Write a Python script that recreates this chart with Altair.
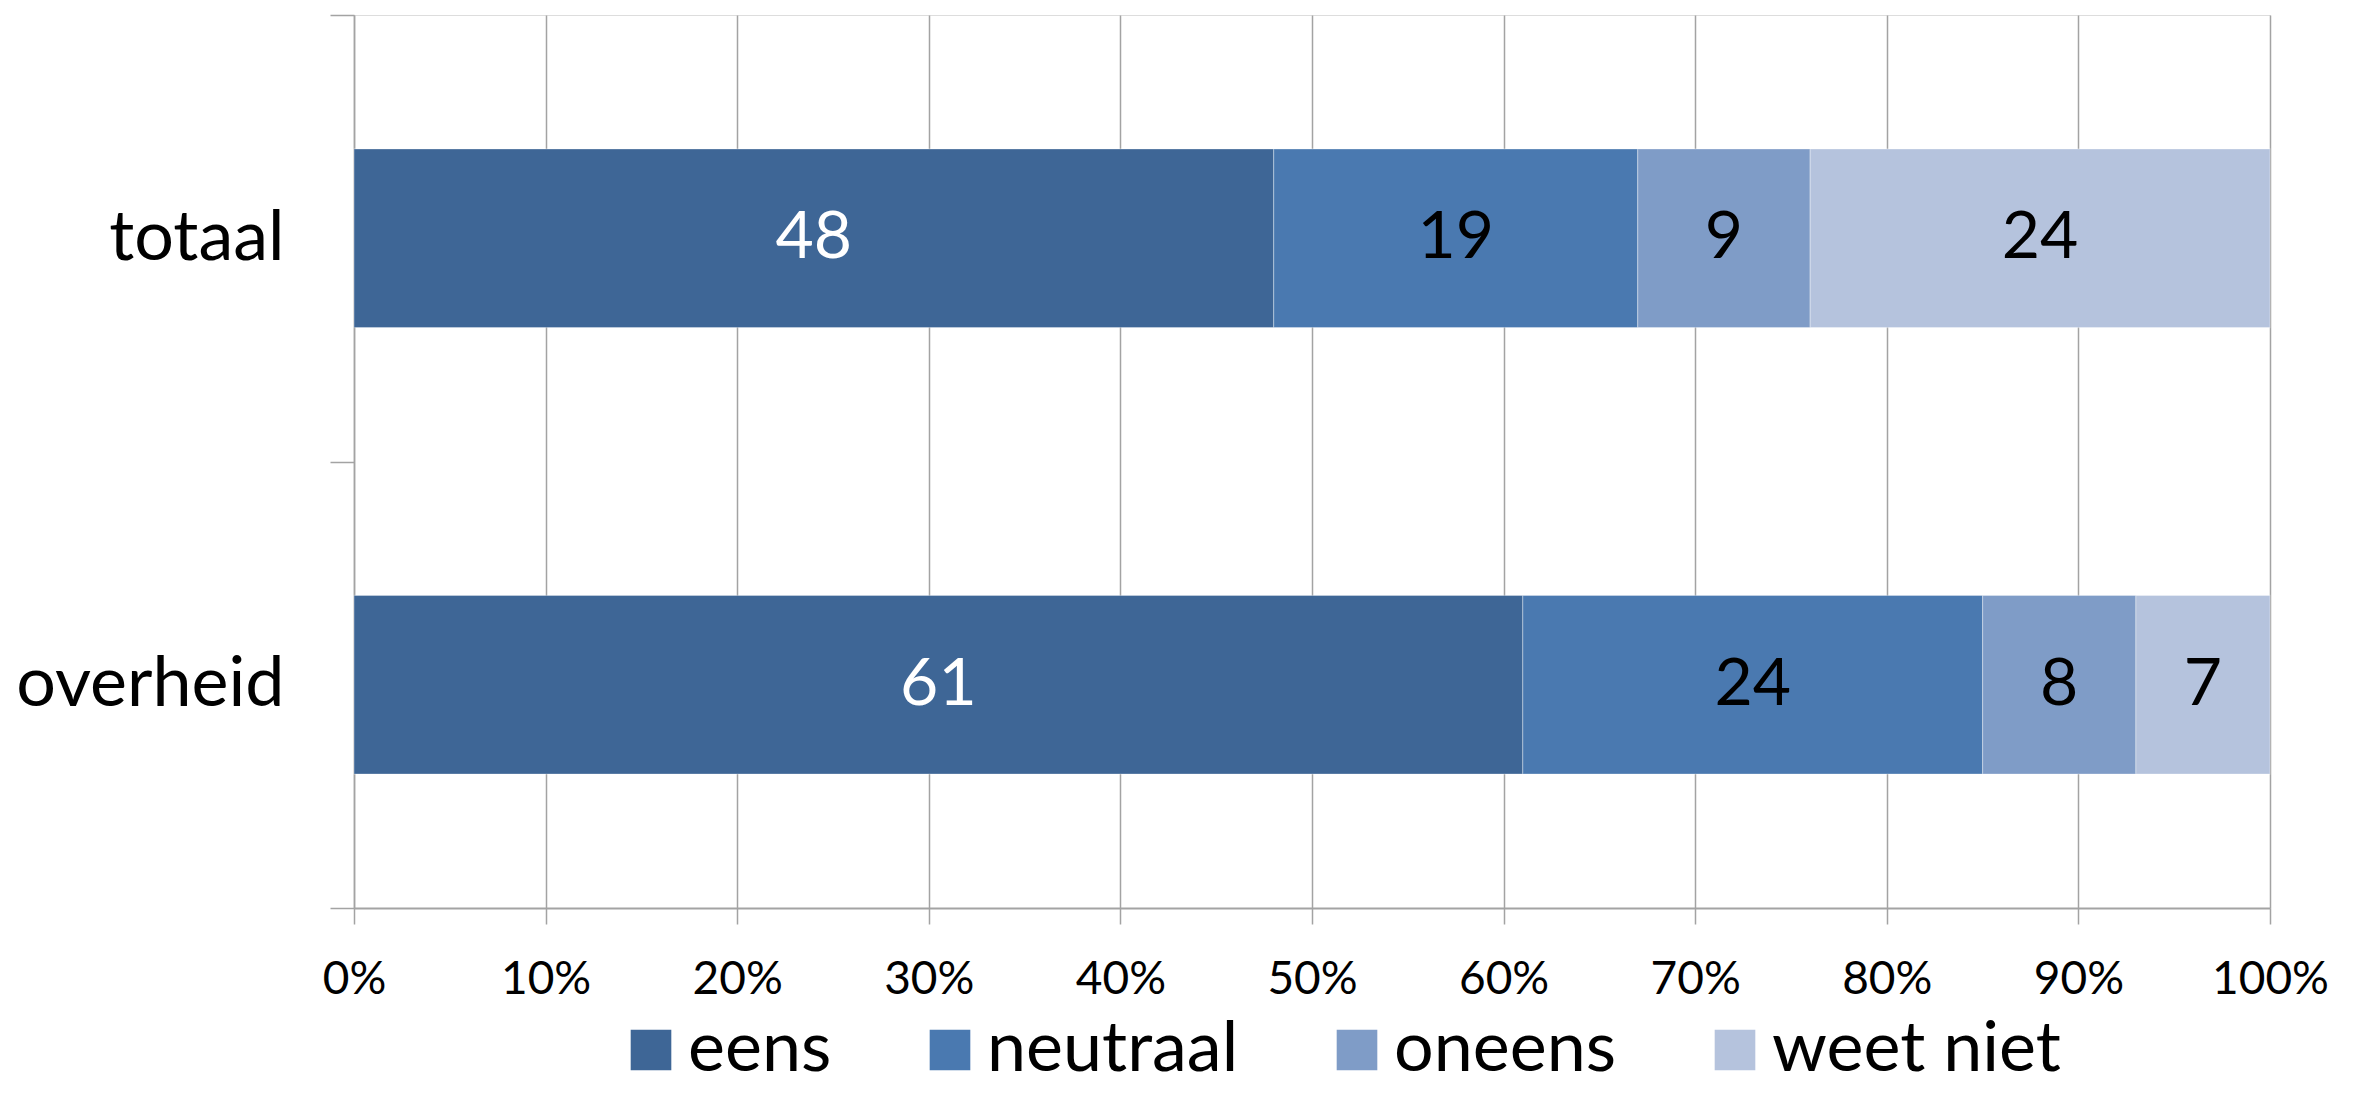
import altair as alt
import pandas as pd

categories = ["totaal", "overheid"]
responses = ["eens", "neutraal", "oneens", "weet niet"]
totaal_values = [48, 19, 9, 24]
overheid_values = [61, 24, 8, 7]
colors = ["#3E6696", "#4A79B0", "#7F9CC7", "#B5C3DD"]
text_colors = ["white", "black", "black", "black"]
x_ticks = [0, 10, 20, 30, 40, 50, 60, 70, 80, 90, 100]

rows = []
for cat, vals in zip(categories, [totaal_values, overheid_values]):
    for i, (r, v) in enumerate(zip(responses, vals)):
        rows.append({"categorie": cat, "antwoord": r, "waarde": v,
                     "volgorde": i, "tekstkleur": text_colors[i]})
df = pd.DataFrame(rows)

FONT = "Lato"
GRID = "#A3A3A3"

x_axis = alt.Axis(values=x_ticks, labelExpr="datum.value + '%'", grid=True,
                  gridColor=GRID, gridWidth=1.5, domainColor=GRID, domainWidth=2,
                  tickColor=GRID, tickWidth=1.5, tickSize=16, labelFontSize=46,
                  labelFont=FONT, labelColor="black", labelPadding=33, title=None,
                  labelFlush=False)
y_axis = alt.Axis(title=None, tickBand="extent", grid=False, domainColor=GRID,
                  domainWidth=1.5, tickColor=GRID, tickWidth=1.5, tickSize=24,
                  labelFontSize=70, labelFont=FONT, labelColor="black",
                  labelPadding=46, labelLimit=500)

x_scale = alt.Scale(domain=[0, 100], nice=False)
y_enc = alt.Y("categorie:N", sort=categories,
              scale=alt.Scale(paddingInner=0, paddingOuter=0), axis=y_axis)

base = alt.Chart(df).transform_stack(
    stack="waarde", groupby=["categorie"], as_=["x0", "x1"],
    sort=[alt.SortField("volgorde")]
).transform_calculate(mid="(datum.x0 + datum.x1) / 2")

bars = base.mark_bar(height={"band": 0.4}, stroke="white", strokeWidth=1.2,
                     strokeOpacity=0.3).encode(
    x=alt.X("x0:Q", scale=x_scale, axis=x_axis),
    x2="x1:Q",
    y=y_enc,
    color=alt.Color("antwoord:N", scale=alt.Scale(domain=responses, range=colors),
                    legend=alt.Legend(orient="none", legendX=262, legendY=1000,
                                      direction="horizontal", title=None,
                                      symbolType="square", symbolSize=1650,
                                      symbolStrokeWidth=0, labelFontSize=70,
                                      labelFont=FONT, labelColor="black",
                                      labelOffset=2, columnPadding=83,
                                      labelLimit=500)),
    order=alt.Order("volgorde:Q"),
)

labels = base.mark_text(fontSize=66, font=FONT, baseline="middle", align="center").encode(
    x=alt.X("mid:Q", scale=x_scale, axis=x_axis),
    y=y_enc,
    text=alt.Text("waarde:Q"),
    color=alt.Color("tekstkleur:N", scale=None),
)

chart = alt.layer(bars, labels).properties(
    width=1916, height=893,
    autosize=alt.AutoSizeParams(type="none"),
    padding={"left": 346, "top": 7, "right": 60, "bottom": 178},
).configure_view(strokeWidth=0).configure(background="white")

chart.save("out.html", embed_options={"renderer": "svg", "actions": False})
